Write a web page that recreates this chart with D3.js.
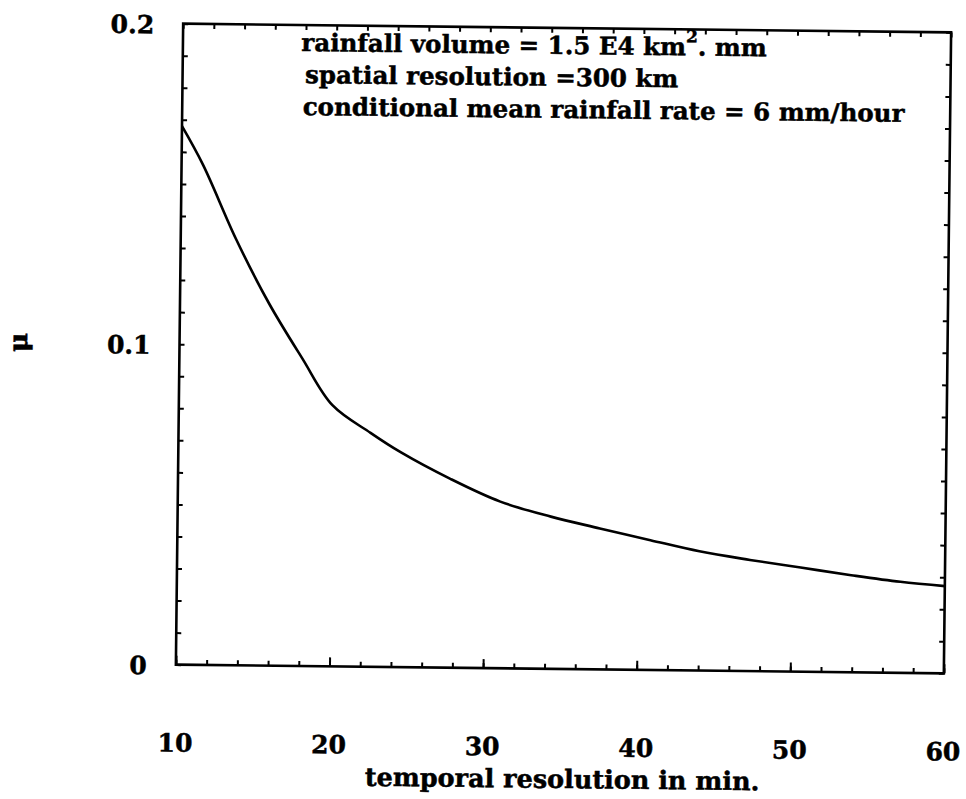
<!DOCTYPE html>
<html>
<head>
<meta charset="utf-8">
<script src="https://cdn.jsdelivr.net/npm/d3@7"></script>
<style>
  html, body { margin: 0; padding: 0; background: #fff; }
  svg { display: block; }
  text { font-family: "DejaVu Serif", serif; font-weight: bold; fill: #000; stroke: #000; stroke-width: 0.5px; }
</style>
</head>
<body>
<svg id="chart" width="966" height="799"></svg>
<script>
// ---- data ----
const tempRes = [10, 11.4, 13.6, 15.8, 18, 20, 22.5, 24.5, 27.7, 31, 34.3, 37.5, 40.8, 44, 47.3, 50.6, 53.9, 57.1, 60];
const mu      = [0.168, 0.156, 0.133, 0.113, 0.096, 0.0815, 0.073, 0.067, 0.059, 0.052, 0.0475, 0.044, 0.0405, 0.0372, 0.0347, 0.0325, 0.0303, 0.0284, 0.0272];
const xTickLabels = [10, 20, 30, 40, 50, 60];
const yTickLabels = [0, 0.1, 0.2];
const annotations = [
  "rainfall volume = 1.5 E4 km",
  "spatial resolution =300 km",
  "conditional mean rainfall rate = 6 mm/hour"
];
const xTitle = "temporal resolution in min.";
const yTitle = "\u03BC";

// ---- layout ----
const L = 179.5, R = 947.5, T = 28, B = 669;
const svg = d3.select("#chart");
const cx = (L + R) / 2, cy = (T + B) / 2;
const g = svg.append("g").attr("transform", `rotate(0.65 ${cx} ${cy})`);

const x = d3.scaleLinear().domain([10, 60]).range([L, R]);
const y = d3.scaleLinear().domain([0, 0.2]).range([B, T]);

const minorX = d3.range(10, 60.01, 2);
const minorY = d3.range(0, 0.2001, 0.01);

function styleAxis(sel) {
  sel.select(".domain").remove();
  sel.selectAll(".tick line").attr("stroke", "#000").attr("stroke-width", 2);
}

// minor ticks (inward) on all four sides
g.append("g").attr("transform", `translate(0,${B})`)
  .call(d3.axisBottom(x).tickValues(minorX).tickSize(-5).tickFormat("")).call(styleAxis);
g.append("g").attr("transform", `translate(0,${B})`)
  .call(d3.axisBottom(x).tickValues(xTickLabels).tickSize(-9).tickFormat("")).call(styleAxis);
g.append("g").attr("transform", `translate(0,${T})`)
  .call(d3.axisTop(x).tickValues(minorX).tickSize(-5).tickFormat("")).call(styleAxis);
g.append("g").attr("transform", `translate(${L},0)`)
  .call(d3.axisLeft(y).tickValues(minorY).tickSize(-5).tickFormat("")).call(styleAxis);
g.append("g").attr("transform", `translate(${R},0)`)
  .call(d3.axisRight(y).tickValues(minorY).tickSize(-5).tickFormat("")).call(styleAxis);

// frame
g.append("rect").attr("x", L).attr("y", T).attr("width", R - L).attr("height", B - T)
  .attr("fill", "none").attr("stroke", "#000").attr("stroke-width", 2.6);

// curve
const line = d3.line().x((d, i) => x(tempRes[i])).y(d => y(d)).curve(d3.curveCatmullRom.alpha(0.5));
g.append("path").datum(mu).attr("d", line)
  .attr("fill", "none").attr("stroke", "#000").attr("stroke-width", 2.6);

// tick labels
g.selectAll(".xl").data(xTickLabels).enter().append("text")
  .attr("x", d => x(d)).attr("y", B + 87)
  .attr("text-anchor", "middle").attr("font-size", 25).text(d => d);
g.selectAll(".yl").data(yTickLabels).enter().append("text")
  .attr("x", L - 29).attr("y", d => y(d) + 10)
  .attr("text-anchor", "end").attr("font-size", 25).text(d => d);

// axis titles
g.append("text").attr("x", 567).attr("y", B + 119)
  .attr("text-anchor", "middle").attr("font-size", 25.5).text(xTitle);
g.append("text").attr("transform", `translate(27,${y(0.1)}) rotate(-90)`)
  .attr("text-anchor", "middle").attr("font-size", 26).text(yTitle);

// annotation block
const a1 = g.append("text").attr("x", 298).attr("y", 54).attr("font-size", 24.5);
a1.append("tspan").text(annotations[0]);
a1.append("tspan").attr("dy", -13).attr("font-size", 17).text("2");
a1.append("tspan").attr("dy", 13).text(". mm");
g.append("text").attr("x", 302).attr("y", 86).attr("font-size", 24.5).text(annotations[1]);
g.append("text").attr("x", 300).attr("y", 118).attr("font-size", 24.5).text(annotations[2]);
</script>
</body>
</html>
